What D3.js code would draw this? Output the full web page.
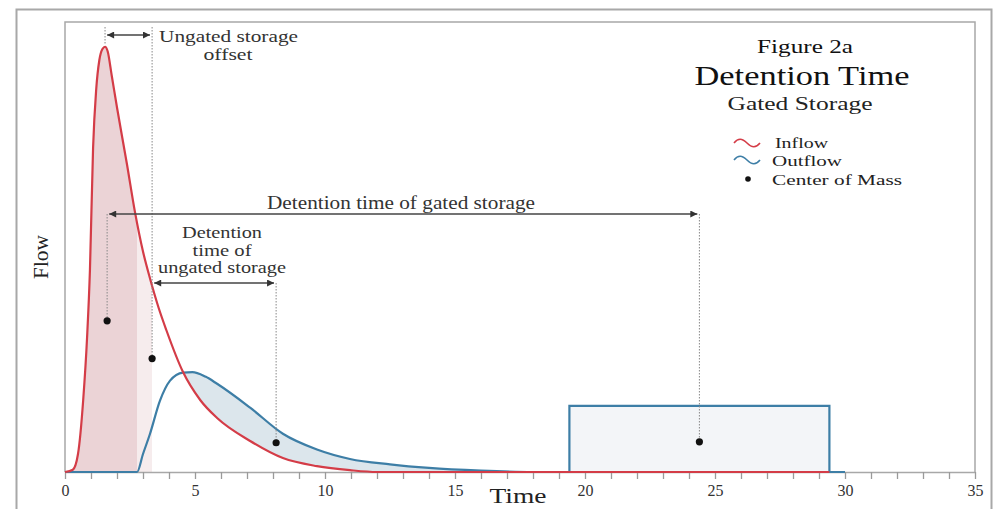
<!DOCTYPE html>
<html>
<head>
<meta charset="utf-8">
<script src="https://cdn.jsdelivr.net/npm/d3@7"></script>
<style>
  body { margin: 0; background: #fff; }
  svg { font-family: "Liberation Serif", "DejaVu Serif", serif; }
</style>
</head>
<body>
<svg id="chart" width="996" height="509"></svg>
<script>
// Data (time units, flow as fraction of plot height)
var inflowTime = [0, 0.3, 0.5, 0.7, 0.85, 0.96, 1.08, 1.2, 1.32, 1.44, 1.54, 1.64, 1.8, 2.0, 2.38, 2.69, 3.0, 3.27, 3.6, 3.9, 4.54, 5.2, 5.85, 7.12, 8.38, 9.69, 10.96, 12, 29.4];
var inflowFlow = [0, 0.005, 0.04, 0.16, 0.30, 0.45, 0.72, 0.85, 0.915, 0.94, 0.945, 0.935, 0.88, 0.81, 0.685, 0.578, 0.49, 0.43, 0.365, 0.315, 0.222, 0.16, 0.12, 0.069, 0.031, 0.013, 0.004, 0, 0];

var outflowTime = [0, 2.77, 3.0, 3.27, 3.65, 4.04, 4.54, 4.9, 5.4, 5.85, 7.12, 8.38, 9.69, 10.96, 12.5, 14, 16, 18, 19.4];
var outflowFlow = [0, 0, 0.04, 0.085, 0.158, 0.203, 0.221, 0.222, 0.212, 0.196, 0.143, 0.085, 0.05, 0.029, 0.017, 0.009, 0.003, 0, 0];

var gatedTime = [19.4, 29.4];
var gatedFlow = 0.147;
var releaseEnd = 30;

var gateOpen = 2.77;            // ungated outflow starts, end of dark pink area
var comTime = [1.62, 3.35, 8.12, 24.4];
var comFlow = [0.336, 0.252, 0.065, 0.067];

var xTicks = d3.range(0, 36, 1);
var xLabels = [0, 5, 10, 15, 20, 25, 30, 35];

var red = "#d43c47", blue = "#3d7ea6";

const svg = d3.select("#chart");

const x = d3.scaleLinear().domain([0, 35]).range([65, 975]);
const y = d3.scaleLinear().domain([0, 1]).range([472, 22]);

var inflow = inflowTime.map(function(t, i) { return [t, inflowFlow[i]]; });
var outflow = outflowTime.map(function(t, i) { return [t, outflowFlow[i]]; });

// frames
svg.append("rect").attr("x", 16.5).attr("y", 9.5).attr("width", 975).attr("height", 520)
  .attr("fill", "none").attr("stroke", "#a8a8a8").attr("stroke-width", 2);
svg.append("path")
  .attr("d", "M" + x(0) + "," + y(0) + "V" + y(1) + "H" + x(35) + "V" + y(0))
  .attr("fill", "none").attr("stroke", "#a8a8a8").attr("stroke-width", 1.5);

// clip paths
var defs = svg.append("defs");
defs.append("clipPath").attr("id", "clipGate")
  .append("rect").attr("x", x(0)).attr("y", y(1)).attr("width", x(gateOpen) - x(0)).attr("height", y(0) - y(1));
defs.append("clipPath").attr("id", "clipLight")
  .append("rect").attr("x", x(gateOpen)).attr("y", y(1)).attr("width", x(comTime[1]) - x(gateOpen)).attr("height", y(0) - y(1));

const lineGen = d3.line().curve(d3.curveMonotoneX).x(d => x(d[0])).y(d => y(d[1]));
const areaGen = d3.area().curve(d3.curveMonotoneX).x(d => x(d[0])).y0(y(0)).y1(d => y(d[1]));
const aboveGen = d3.area().curve(d3.curveMonotoneX).x(d => x(d[0])).y0(y(1)).y1(d => y(d[1]));

defs.append("clipPath").attr("id", "clipAbove")
  .append("path").attr("d", aboveGen(inflow));

// fills
svg.append("path").attr("d", areaGen(inflow)).attr("clip-path", "url(#clipGate)")
  .attr("fill", "#ebd3d6");
svg.append("path").attr("d", areaGen(inflow)).attr("clip-path", "url(#clipLight)")
  .attr("fill", "#f6eced");
svg.append("path").attr("d", areaGen(outflow)).attr("clip-path", "url(#clipAbove)")
  .attr("fill", "#dce6ec");

var box = [[gatedTime[0], 0], [gatedTime[0], gatedFlow], [gatedTime[1], gatedFlow], [gatedTime[1], 0]];
var boxLine = d3.line().x(d => x(d[0])).y(d => y(d[1]));
svg.append("path").attr("d", boxLine(box) + "Z").attr("fill", "#f3f5f8").attr("stroke", "none");

// x axis
var xAxis = d3.axisBottom(x).tickValues(xTicks).tickSizeInner(7).tickSizeOuter(0).tickPadding(6)
  .tickFormat(d => xLabels.indexOf(d) >= 0 ? d : "");
var gx = svg.append("g").attr("transform", "translate(0," + y(0) + ")").call(xAxis);
gx.select(".domain").attr("stroke", "#a8a8a8").attr("stroke-width", 1.5);
gx.selectAll(".tick line").attr("stroke", "#9a9a9a").attr("stroke-width", 1.3);
gx.selectAll(".tick text").attr("font-size", 16).attr("fill", "#333")
  .attr("font-family", "Liberation Serif, serif");

// lines
svg.append("path").attr("d", lineGen(outflow)).attr("fill", "none").attr("stroke", blue).attr("stroke-width", 2.2);
svg.append("path").attr("d", boxLine(box.concat([[releaseEnd, 0]]))).attr("fill", "none").attr("stroke", blue).attr("stroke-width", 2.2);
svg.append("path").attr("d", lineGen(inflow)).attr("fill", "none").attr("stroke", red).attr("stroke-width", 2.2);

// arrow markers
function marker(id, orient) {
  defs.append("marker").attr("id", id).attr("viewBox", "0 0 10 10").attr("refX", 10).attr("refY", 5)
    .attr("markerWidth", 9).attr("markerHeight", 7).attr("markerUnits", "userSpaceOnUse").attr("orient", orient)
    .append("path").attr("d", "M0,0L10,5L0,10Z").attr("fill", "#333");
}
marker("arrowEnd", "auto");
marker("arrowStart", "auto-start-reverse");

function dotted(t, y1, y2) {
  svg.append("line").attr("x1", x(t)).attr("x2", x(t)).attr("y1", y1).attr("y2", y2)
    .attr("stroke", "#888").attr("stroke-width", 1).attr("stroke-dasharray", "1.5,1.5");
}
function arrow(t1, t2, yy) {
  svg.append("line").attr("x1", x(t1)).attr("x2", x(t2)).attr("y1", yy).attr("y2", yy)
    .attr("stroke", "#444").attr("stroke-width", 1.4)
    .attr("marker-start", "url(#arrowStart)").attr("marker-end", "url(#arrowEnd)");
}

// dotted guides
dotted(comTime[0] - 0.08, 27, 44);
dotted(comTime[1], 27, y(comFlow[1]));
dotted(comTime[0], 214, y(comFlow[0]));
dotted(comTime[2], 283, y(comFlow[2]));
dotted(comTime[3], 214, y(comFlow[3]));

// arrows
arrow(comTime[0], comTime[1] - 0.08, 35);
arrow(comTime[0] + 0.08, comTime[3] - 0.08, 214);
arrow(comTime[1] + 0.08, comTime[2] - 0.08, 283);

// centre of mass dots
svg.selectAll(".com").data(comTime).enter().append("circle")
  .attr("cx", (d) => x(d)).attr("cy", (d, i) => y(comFlow[i])).attr("r", 3.6).attr("fill", "#111");

// text, stretched to the widths in the figure
function txt(tx, ty, s, size, width, anchor, fill) {
  return svg.append("text").attr("x", tx).attr("y", ty).attr("font-size", size)
    .attr("text-anchor", anchor || "middle").attr("fill", fill || "#333")
    .attr("textLength", width).attr("lengthAdjust", "spacingAndGlyphs").text(s);
}
txt(159, 42, "Ungated storage", 17, 139, "start");
txt(228, 60, "offset", 16, 49);
txt(401, 209, "Detention time of gated storage", 18, 268);
txt(222, 238, "Detention", 16, 80);
txt(222, 256, "time of", 16, 59);
txt(222, 273, "ungated storage", 16, 128);

// title
txt(805, 53, "Figure 2a", 19, 96, "middle", "#111");
txt(802, 85, "Detention Time", 28, 215, "middle", "#111");
txt(800, 110, "Gated Storage", 19, 145, "middle", "#222");

// legend
var wave = "M0,0 C4,-5 8,-5 13,0 S22,5 26,0";
svg.append("path").attr("d", wave).attr("transform", "translate(734,143)").attr("fill", "none").attr("stroke", red).attr("stroke-width", 1.6);
svg.append("path").attr("d", wave).attr("transform", "translate(734,160)").attr("fill", "none").attr("stroke", blue).attr("stroke-width", 1.6);
svg.append("circle").attr("cx", 748).attr("cy", 179).attr("r", 2.8).attr("fill", "#111");
txt(775, 148, "Inflow", 15, 53, "start", "#222");
txt(772, 166, "Outflow", 15, 70, "start", "#222");
txt(772, 185, "Center of Mass", 15, 130, "start", "#222");

// axis titles
txt(518, 503, "Time", 22, 57, "middle", "#222");
svg.append("text").attr("transform", "translate(48,257) rotate(-90)").attr("text-anchor", "middle")
  .attr("font-size", 22).attr("fill", "#222").attr("textLength", 44).attr("lengthAdjust", "spacingAndGlyphs").text("Flow");
</script>
</body>
</html>
